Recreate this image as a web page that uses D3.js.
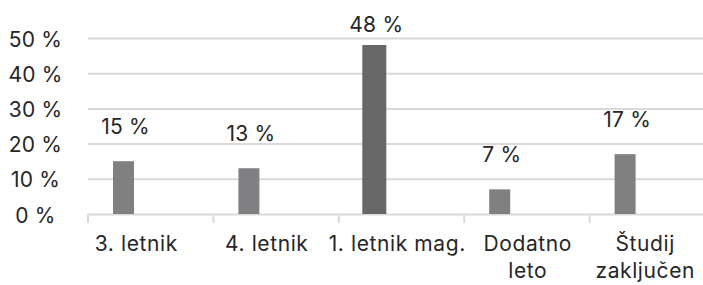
<!DOCTYPE html>
<html>
<head>
    <meta charset="utf-8">
    <script src="https://d3js.org/d3.v7.min.js"></script>
    <style>
        body { margin: 0; background: #fff; }
        text { font-family: Inter, Roboto, "Noto Sans", sans-serif; fill: #262626; font-size: 21px; letter-spacing: 0.6px; }
        .num { letter-spacing: 0.2px; }
    </style>
</head>
<body>
    <div id="chart"></div>
    <script>
        // Data
        var categories = ["3. letnik", "4. letnik", "1. letnik mag.", "Dodatno leto", "Študij zaključen"];
        var values = [15, 13, 48, 7, 17];
        var yTicks = [0, 10, 20, 30, 40, 50];

        var width = 703, height = 285;
        var margin = { top: 38, left: 88, bottom: 71 };

        var svg = d3.select("#chart").append("svg")
            .attr("width", width)
            .attr("height", height);

        // x band scale runs past the right edge, as in the cropped original
        var x = d3.scaleBand()
            .domain(categories)
            .range([margin.left, margin.left + 5 * 125.4]);

        // category labels sit on a slightly wider, left-shifted grid
        var xLabel = d3.scaleBand()
            .domain(categories)
            .range([71, 71 + 5 * 130.5]);

        var y = d3.scaleLinear()
            .domain([0, 50])
            .range([height - margin.bottom, margin.top]);

        // gridlines
        svg.selectAll(".grid")
            .data(yTicks)
            .enter().append("line")
            .attr("x1", margin.left)
            .attr("x2", width)
            .attr("y1", function(d) { return y(d) + 0.5; })
            .attr("y2", function(d) { return y(d) + 0.5; })
            .attr("stroke", "#d9d9d9")
            .attr("stroke-width", 2);

        // y labels
        svg.selectAll(".ylab")
            .data(yTicks)
            .enter().append("text")
            .attr("class", "num")
            .attr("x", 35.5)
            .attr("y", function(d) { return y(d) + 1; })
            .attr("text-anchor", "middle")
            .attr("dominant-baseline", "central")
            .text(function(d) { return d + " %"; });

        // category tick marks
        var tickPos = categories.map(function(c) { return x(c); });
        svg.selectAll(".tick")
            .data(tickPos)
            .enter().append("line")
            .attr("x1", function(d) { return d; })
            .attr("x2", function(d) { return d; })
            .attr("y1", y(0))
            .attr("y2", y(0) + 9)
            .attr("stroke", "#d9d9d9")
            .attr("stroke-width", 2);

        // bars (offset left inside band like the original)
        var barW = 21;
        var barX = function(c) { return x(c) + 35.5; };
        svg.selectAll(".bar")
            .data(values)
            .enter().append("rect")
            .attr("x", function(d, i) { return barX(categories[i]) - (i === 2 ? 12 : barW / 2); })
            .attr("width", function(d, i) { return i === 2 ? 24 : barW; })
            .attr("y", function(d) { return y(d); })
            .attr("height", function(d) { return y(0) - y(d); })
            .attr("fill", function(d, i) { return i === 2 ? "#676767" : "#808083"; });

        // value labels
        svg.selectAll(".val")
            .data(values)
            .enter().append("text")
            .attr("class", "num")
            .attr("x", function(d, i) { return barX(categories[i]) + 2; })
            .attr("y", function(d) { return Math.max(y(d) - 27, 32); })
            .attr("text-anchor", "middle")
            .text(function(d) { return d + " %"; });

        // category labels (wrap two-word long labels)
        var catLabels = svg.selectAll(".cat")
            .data(categories)
            .enter().append("text")
            .attr("text-anchor", "middle");

        catLabels.each(function(d) {
            var lines = (d === "Dodatno leto" || d === "Študij zaključen") ? d.split(" ") : [d];
            var t = d3.select(this);
            t.selectAll("tspan")
                .data(lines)
                .enter().append("tspan")
                .attr("x", 0)
                .attr("dy", function(l, i) { return i === 0 ? 0 : 27; })
                .text(function(l) { return l; });
            // keep label inside the picture
            var w = this.getBBox().width;
            var cx = Math.min(xLabel(d) + xLabel.bandwidth() / 2, width - w / 2 - 8);
            t.attr("transform", "translate(" + cx + ",251)");
        });
    </script>
</body>
</html>
